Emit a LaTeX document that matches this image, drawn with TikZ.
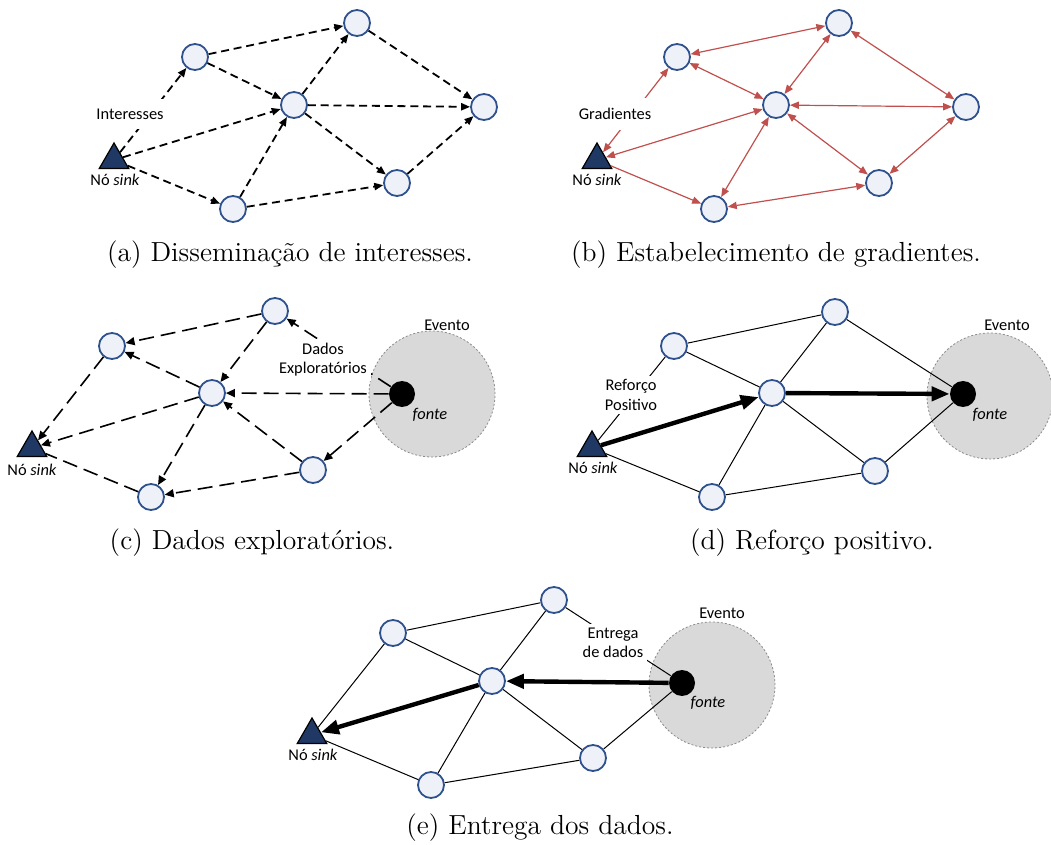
\documentclass[tikz,border=0pt]{standalone}
\usepackage{fontspec}
\newfontfamily\lblfont{Carlito}
\usetikzlibrary{arrows.meta,shapes.geometric}

\definecolor{nodeblue}{RGB}{47,82,143}
\definecolor{nodefill}{RGB}{238,242,248}
\definecolor{sinkblue}{RGB}{31,56,100}
\definecolor{gradred}{RGB}{192,80,77}
\definecolor{eventgray}{RGB}{217,217,217}
\definecolor{eventedge}{RGB}{140,140,140}

\tikzset{
  sensor/.style={circle, draw=nodeblue, fill=nodefill, line width=0.9pt, minimum size=13pt, inner sep=0pt},
  sinknode/.style={regular polygon, regular polygon sides=3, draw=black, fill=sinkblue, line width=0.6pt, minimum size=17pt, inner sep=0pt},
  srcdot/.style={circle, fill=black, minimum size=13pt, inner sep=0pt},
  evento/.style={circle, fill=eventgray, draw=eventedge, line width=0.4pt, dash pattern=on 1pt off 1pt, minimum size=63pt, inner sep=0pt},
  lbl/.style={font=\lblfont\fontsize{8.2}{9.6}\selectfont, align=center, inner sep=1pt},
  tag/.style={lbl, fill=white},
  captext/.style={font=\fontsize{13.8}{16}\selectfont, inner sep=0pt},
  interest/.style={draw, line width=0.9pt, dash pattern=on 4pt off 2.4pt, -{Triangle[length=4.5pt,width=3.6pt]}},
  grad/.style={draw=gradred, line width=0.6pt, {Triangle[length=4.5pt,width=3.6pt]}-{Triangle[length=4.5pt,width=3.6pt]}},
  gradone/.style={draw=gradred, line width=0.6pt, -{Triangle[length=4.5pt,width=3.6pt]}},
  explore/.style={draw, line width=0.8pt, dash pattern=on 7.5pt off 3.5pt, -{Triangle[length=4.5pt,width=4pt]}},
  exploreplain/.style={draw, line width=0.8pt, dash pattern=on 7.5pt off 3.5pt},
  link/.style={draw, line width=0.5pt},
  strongpath/.style={draw, line width=2.2pt, -{Triangle[length=9pt,width=7pt]}},
}

\begin{document}
\begin{tikzpicture}[x=0.5pt, y=-0.5pt]
\useasboundingbox (0,0) rectangle (1051,845);

% ---------- (a) interest dissemination ----------
\node[sensor] (a1) at (195,57) {};
\node[sensor] (a2) at (357,23) {};
\node[sensor] (a3) at (294,105) {};
\node[sensor] (a4) at (484,107) {};
\node[sensor] (a5) at (397,183) {};
\node[sensor] (a6) at (233,209) {};
\node[sinknode] (as) at (114,160) {};
\draw[interest] (as) -- (a1);
\draw[interest] (as) -- (a3);
\draw[interest] (as) -- (a6);
\draw[interest] (a1) -- (a2);
\draw[interest] (a1) -- (a3);
\draw[interest] (a3) -- (a2);
\draw[interest] (a6) -- (a3);
\draw[interest] (a3) -- (a4);
\draw[interest] (a3) -- (a5);
\draw[interest] (a2) -- (a4);
\draw[interest] (a6) -- (a5);
\draw[interest] (a5) -- (a4);
\node[tag, inner ysep=5pt] (atag) at (130,114) {Interesses};
\node[lbl] (asl) at (115,180) {Nó \textit{sink}};
\node[captext] (acap) at (290,255) {(a) Disseminação de interesses.};

% ---------- (b) gradient setup ----------
\node[sensor] (b1) at (677,57) {};
\node[sensor] (b2) at (839,23) {};
\node[sensor] (b3) at (776,105) {};
\node[sensor] (b4) at (966,107) {};
\node[sensor] (b5) at (879,183) {};
\node[sensor] (b6) at (714,209) {};
\node[sinknode] (bs) at (597,160) {};
\draw[grad] (bs) -- (b1);
\draw[grad] (bs) -- (b3);
\draw[gradone] (bs) -- (b6);
\draw[grad] (b1) -- (b2);
\draw[grad] (b1) -- (b3);
\draw[grad] (b3) -- (b2);
\draw[grad] (b2) -- (b4);
\draw[grad] (b3) -- (b4);
\draw[grad] (b3) -- (b5);
\draw[grad] (b4) -- (b5);
\draw[grad] (b6) -- (b5);
\draw[grad] (b3) -- (b6);
\node[tag, inner ysep=5pt] (btag) at (615,114) {Gradientes};
\node[lbl] (bsl) at (597,180) {Nó \textit{sink}};
\node[captext] (bcap) at (776,255) {(b) Estabelecimento de gradientes.};

% ---------- (c) exploratory data ----------
\node[evento] (ce) at (432,394) {};
\node[lbl] (cev) at (447,325) {Evento};
\node[srcdot] (cf) at (402,394) {};
\node[lbl] (cfl) at (430,415) {\textit{fonte}};
\node[sensor] (c1) at (112,346) {};
\node[sensor] (c2) at (275,311) {};
\node[sensor] (c3) at (212,393) {};
\node[sensor] (c5) at (313,470) {};
\node[sensor] (c6) at (151,497) {};
\node[sinknode] (cs) at (32,448) {};
\draw[explore] (c2) -- (c1);
\draw[explore] (c3) -- (c1);
\draw[explore] (c2) -- (c3);
\draw[explore] (cf) -- (c2);
\draw[explore] (cf) -- (c3);
\draw[explore] (c5) -- (c3);
\draw[explore] (cf) -- (c5);
\draw[explore] (c5) -- (c6);
\draw[explore] (c3) -- (c6);
\draw[explore] (c1) -- (cs);
\draw[explore] (c3) -- (cs);
\draw[exploreplain] (c6) -- (cs);
\node[tag, inner sep=2pt] (ctag) at (323,360) {Dados\\Exploratórios};
\node[lbl] (csl) at (32,470) {Nó \textit{sink}};
\node[captext] (ccap) at (252,543) {(c) Dados exploratórios.};

% ---------- (d) positive reinforcement ----------
\node[evento] (de) at (990,396) {};
\node[lbl] (dev) at (1007,325) {Evento};
\node[srcdot] (df) at (963,394) {};
\node[lbl] (dfl) at (990,415) {\textit{fonte}};
\node[sensor] (d1) at (674,346) {};
\node[sensor] (d2) at (835,312) {};
\node[sensor] (d3) at (772,393) {};
\node[sensor] (d5) at (875,471) {};
\node[sensor] (d6) at (712,497) {};
\node[sinknode] (ds) at (592,448) {};
\draw[link] (ds) -- (d1);
\draw[link] (d1) -- (d2);
\draw[link] (d1) -- (d3);
\draw[link] (d3) -- (d2);
\draw[link] (d2) -- (df);
\draw[link] (d3) -- (d5);
\draw[link] (d5) -- (df);
\draw[link] (d6) -- (d5);
\draw[link] (d3) -- (d6);
\draw[link] (ds) -- (d6);
\draw[strongpath] (ds) -- (d3);
\draw[strongpath] (d3) -- (df);
\node[tag, inner sep=2pt] (dtag) at (631,395) {Reforço\\Positivo};
\node[lbl] (dsl) at (593,468) {Nó \textit{sink}};
\node[captext] (dcap) at (812,543) {(d) Reforço positivo.};

% ---------- (e) data delivery ----------
\node[evento] (ee) at (712,685) {};
\node[lbl] (eev) at (722,613) {Evento};
\node[srcdot] (ef) at (682,683) {};
\node[lbl] (efl) at (708,703) {\textit{fonte}};
\node[sensor] (e1) at (393,633) {};
\node[sensor] (e2) at (554,600) {};
\node[sensor] (e3) at (492,681) {};
\node[sensor] (e5) at (593,758) {};
\node[sensor] (e6) at (431,785) {};
\node[sinknode] (es) at (312,735) {};
\draw[link] (e1) -- (e2);
\draw[link] (e1) -- (e3);
\draw[link] (e3) -- (e2);
\draw[link] (e2) -- (ef);
\draw[link] (e1) -- (es);
\draw[link] (e3) -- (e5);
\draw[link] (e3) -- (e6);
\draw[link] (e6) -- (e5);
\draw[link] (e5) -- (ef);
\draw[link] (es) -- (e6);
\draw[strongpath] (ef) -- (e3);
\draw[strongpath] (e3) -- (es);
\node[tag, inner sep=2pt] (etag) at (613,643) {Entrega\\de dados};
\node[lbl] (esl) at (313,755) {Nó \textit{sink}};
\node[captext] (ecap) at (540,828) {(e) Entrega dos dados.};
\end{tikzpicture}
\end{document}
